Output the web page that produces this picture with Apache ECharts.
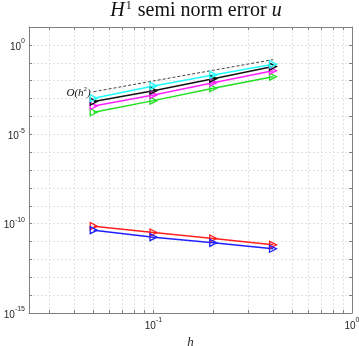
<!DOCTYPE html>
<html>
<head>
<meta charset="utf-8">
<script src="https://cdn.jsdelivr.net/npm/echarts@6/dist/echarts.min.js"></script>
<style>
  html, body { margin: 0; padding: 0; background: #fff; }
  #chart { width: 359px; height: 346px; }
</style>
</head>
<body>
<div id="chart"></div>
<script>
// mesh sizes
const hValues = [0.05, 0.1, 0.2, 0.4];
// errors
const errRed = [7.2e-11, 3.2e-11, 1.48e-11, 6.5e-12];
const errBlue = [4.3e-11, 1.75e-11, 8.4e-12, 3.9e-12];
const errGreen = [1.7e-4, 7.6e-4, 3.75e-3, 1.67e-2];
const errMagenta = [3.8e-4, 1.58e-3, 7.7e-3, 3.6e-2];
const errBlack = [6.7e-4, 2.75e-3, 1.29e-2, 6.1e-2];
const errCyan = [1.03e-3, 5.05e-3, 2.08e-2, 8.3e-2];
const refLine = [2.4e-3, 9.6e-3, 3.8e-2, 1.5e-1];
// ticks
const xTicks = [0.03, 0.04, 0.05, 0.06, 0.07, 0.08, 0.09, 0.1, 0.2, 0.3, 0.4, 0.5, 0.6, 0.7, 0.8, 0.9, 1];
const xLabels = [0.1, 1];
const yTicks = [1e-15, 1e-14, 1e-13, 1e-12, 1e-11, 1e-10, 1e-9, 1e-8, 1e-7, 1e-6, 1e-5, 1e-4, 1e-3, 1e-2, 1e-1, 1, 10];
const yLabels = [1e-15, 1e-10, 1e-5, 1];

const chart = echarts.init(document.getElementById('chart'));

const pairs = (ys) => hValues.map((h, i) => [h, ys[i]]);
const triRight = 'path://M0,0 L10,5 L0,10 Z';

function errSeries(name, color, ys) {
  return {
    name: name,
    type: 'line',
    data: pairs(ys),
    symbol: triRight,
    symbolSize: 7,
    showAllSymbol: true,
    lineStyle: { color: color, width: 1.5 },
    itemStyle: { color: 'rgba(0,0,0,0)', borderColor: color, borderWidth: 1.3 },
    animation: false
  };
}

const powLabel = function (v) {
  const e = Math.round(Math.log10(v));
  return '{b|10}{s|' + (e < 0 ? '-' + (-e) : e) + '}';
};
const labelRich = {
  b: { fontSize: 10, color: '#262626', fontFamily: 'Liberation Sans', lineHeight: 14, verticalAlign: 'bottom' },
  s: { fontSize: 7, color: '#262626', fontFamily: 'Liberation Sans', lineHeight: 14, verticalAlign: 'top' }
};
const gridLine = { show: true, lineStyle: { color: '#e2e2e2', type: [2, 2], width: 1 } };
const axisLn = { show: true, lineStyle: { color: '#808080', width: 1 } };

function xAx(pos, showLabel) {
  return {
    type: 'log',
    position: pos,
    min: 0.0236,
    max: 1,
    name: showLabel ? 'h' : '',
    nameLocation: 'middle',
    nameGap: 21,
    nameTextStyle: { fontFamily: 'Liberation Serif', fontStyle: 'italic', fontSize: 13, color: '#262626' },
    axisLine: axisLn,
    axisTick: { show: true, inside: true, length: 3, customValues: xTicks, lineStyle: { color: '#808080' } },
    axisLabel: { show: showLabel, customValues: xLabels, formatter: powLabel, rich: labelRich, margin: 4 },
    splitLine: showLabel ? gridLine : { show: false }
  };
}
function yAx(pos, showLabel) {
  return {
    type: 'log',
    position: pos,
    min: 1e-15,
    max: 10,
    axisLine: axisLn,
    axisTick: { show: true, inside: true, length: 3, customValues: yTicks, lineStyle: { color: '#808080' } },
    axisLabel: { show: showLabel, customValues: yLabels, formatter: powLabel, rich: labelRich, margin: 4 },
    splitLine: showLabel ? gridLine : { show: false }
  };
}

const titleFont = { fontFamily: 'Liberation Serif', fontWeight: 'normal', color: '#111', lineHeight: 24 };

const option = {
  animation: false,
  title: {
    text: '{i|H}{s|1}{n| semi norm error }{i|u}',
    left: 191,
    top: -8,
    textAlign: 'center',
    textStyle: {
      fontWeight: 'normal',
      rich: {
        i: Object.assign({ fontStyle: 'italic', fontSize: 20, verticalAlign: 'bottom' }, titleFont),
        n: Object.assign({ fontSize: 20, verticalAlign: 'bottom' }, titleFont),
        s: { fontFamily: 'Liberation Serif', color: '#111', fontSize: 12, lineHeight: 14, verticalAlign: 'top', padding: [3, 1, 0, 1] }
      }
    }
  },
  grid: { left: 29, right: 7, top: 27, bottom: 33, outerBoundsMode: 'none', containLabel: false },
  xAxis: [xAx('bottom', true), xAx('top', false)],
  yAxis: [yAx('left', true), yAx('right', false)],
  series: [
    errSeries('red', '#ff2020', errRed),
    errSeries('blue', '#2020ff', errBlue),
    errSeries('green', '#20e020', errGreen),
    errSeries('magenta', '#ff20ff', errMagenta),
    errSeries('black', '#111111', errBlack),
    errSeries('cyan', '#20ffff', errCyan),
    {
      name: 'ref',
      type: 'line',
      data: pairs(refLine),
      symbol: 'none',
      lineStyle: { color: '#444', width: 1, type: [3, 2] },
      markPoint: {
        symbol: 'circle',
        symbolSize: 0,
        data: [{ coord: [hValues[0], refLine[0]], value: 'O' }],
        label: {
          show: true,
          position: 'left',
          distance: 3,
          formatter: '{t|O(}{t|h}{s|2}{t|)}',
          rich: {
            t: { fontFamily: 'Liberation Serif', fontStyle: 'italic', fontSize: 11, color: '#111', lineHeight: 13, verticalAlign: 'bottom' },
            s: { fontFamily: 'Liberation Serif', fontSize: 7, color: '#111', lineHeight: 13, verticalAlign: 'top' }
          }
        }
      }
    }
  ]
};

chart.setOption(option);
</script>
</body>
</html>
